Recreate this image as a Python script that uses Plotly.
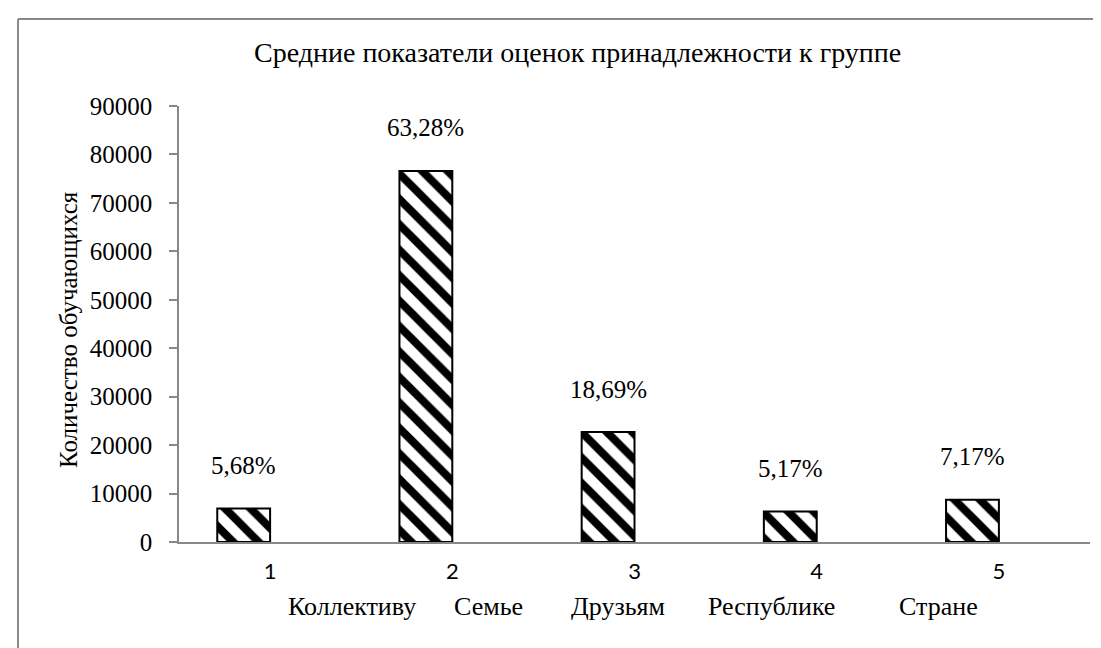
import plotly.graph_objects as go

categories = [1, 2, 3, 4, 5]
tick_labels = ["1", "2", "3", "4", "5"]
values = [6900, 76600, 22700, 6300, 8700]
pct_labels = ["5,68%", "63,28%", "18,69%", "5,17%", "7,17%"]
group_names = ["Коллективу", "Семье", "Друзьям", "Республике", "Стране"]
group_name_x = [1.45, 2.20, 2.91, 3.75, 4.67]

title_text = "Средние показатели оценок принадлежности к группе"
y_title = "Количество обучающихся"

W, H = 1101, 648
L, R, T, B = 171, 19, 98, 114
PW, PH = W - L - R, H - T - B

SERIF = "Liberation Serif"
SANS = "Lato"
GRAY = "#888888"

fig = go.Figure()
fig.add_trace(go.Bar(
    x=categories, y=values,
    width=0.29, offset=-0.29,
    marker=dict(
        color="white",
        line=dict(color="black", width=2),
        pattern=dict(shape="\\", fgcolor="black", bgcolor="white", fgopacity=1,
                     size=18, solidity=0.45, fillmode="replace"),
    ),
    hoverinfo="skip",
))

annotations = []
for c, v, t in zip(categories, values, pct_labels):
    annotations.append(dict(x=c - 0.145, y=v, xref="x", yref="y", text=t, showarrow=False,
                            yshift=43, font=dict(family=SERIF, size=25, color="black")))
for gx, name in zip(group_name_x, group_names):
    annotations.append(dict(x=gx, y=(H - 598 - B) / PH, xref="x", yref="paper", text=name,
                            showarrow=False, yanchor="middle",
                            font=dict(family=SERIF, size=26, color="black")))
annotations.append(dict(x=(569 - L) / PW, y=(H - 45 - B) / PH, xref="paper", yref="paper",
                        text=title_text, showarrow=False, yanchor="middle",
                        font=dict(family=SERIF, size=28, color="black")))
annotations.append(dict(x=(60 - L) / PW, y=(H - 322 - B) / PH, xref="paper", yref="paper",
                        text=y_title, showarrow=False, textangle=-90, xanchor="center", yanchor="middle",
                        font=dict(family=SERIF, size=25, color="black")))

shapes = [
    dict(type="line", xref="paper", yref="paper", x0=(10 - L) / PW, x1=(W + 5 - L) / PW,
         y0=(H - 11 - B) / PH, y1=(H - 11 - B) / PH, line=dict(color=GRAY, width=2)),
    dict(type="line", xref="paper", yref="paper", x0=(10 - L) / PW, x1=(10 - L) / PW,
         y0=(H - 11 - B) / PH, y1=(-5 - B) / PH, line=dict(color=GRAY, width=2)),
]

fig.update_layout(
    width=W, height=H,
    margin=dict(l=L, r=R, t=T, b=B),
    paper_bgcolor="white", plot_bgcolor="white",
    showlegend=False,
    annotations=annotations,
    shapes=shapes,
    font=dict(family=SERIF),
    xaxis=dict(
        range=[0.5, 5.5], tickvals=categories, ticktext=tick_labels,
        showgrid=False, zeroline=False, showline=True, linecolor=GRAY, linewidth=1.5,
        ticks="", ticklabelstandoff=9,
        tickfont=dict(family=SANS, size=22, color="black"),
    ),
    yaxis=dict(
        range=[0, 90000], dtick=10000, tickformat="d",
        showgrid=False, zeroline=False, showline=True, linecolor=GRAY, linewidth=1.5,
        ticks="outside", ticklen=8, tickcolor=GRAY, tickwidth=1.5, ticklabelstandoff=12,
        tickfont=dict(family=SERIF, size=25, color="black"),
    ),
)

fig.write_html("out.html")
